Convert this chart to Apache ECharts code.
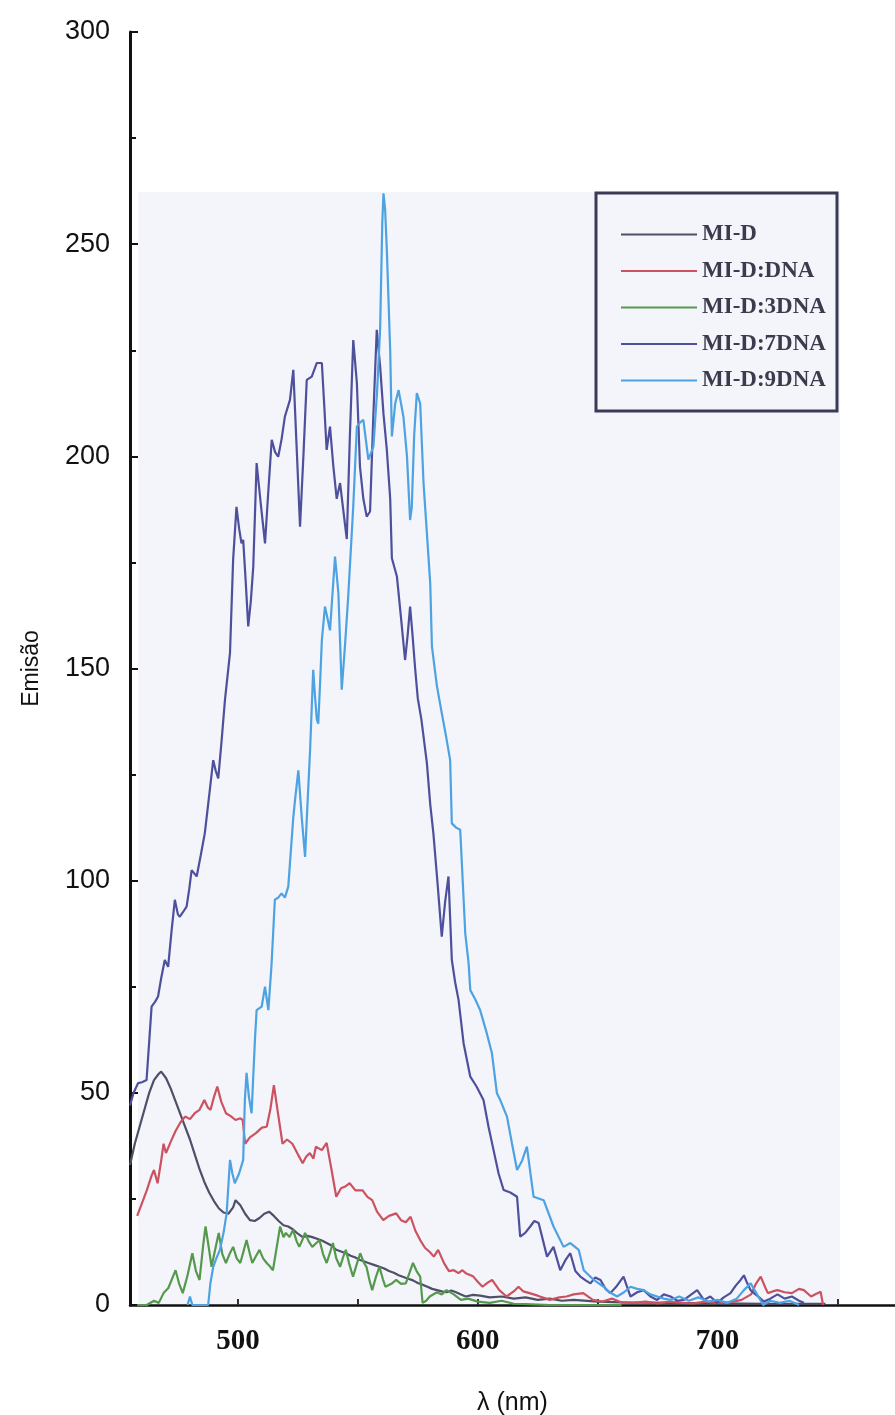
<!DOCTYPE html>
<html>
<head>
<meta charset="utf-8">
<script src="https://cdn.jsdelivr.net/npm/echarts@6/dist/echarts.min.js"></script>
<style>
html,body{margin:0;padding:0;background:#fff;}
#chart{width:895px;height:1415px;}
</style>
</head>
<body>
<div id="chart"></div>
<script>
// ---- data (wavelength nm, emission) ----
const seriesNames = ['MI-D', 'MI-D:DNA', 'MI-D:3DNA', 'MI-D:7DNA', 'MI-D:9DNA'];
const xLabelValues = [500, 600, 700];
const xTickValues = [500, 550, 600, 650, 700, 750];

const miD = [[455,33],[457,38],[459,42],[461,46],[463,50],[465,53],[467,54.5],[468,55],[470,53.5],[472,51],[474,48],[476,45],[478,42],[480,39],[482,35.5],[484,32],[486,29],[488,26.5],[490,24.5],[492,22.8],[494,21.8],[496,21.5],[498,23],[499,24.7],[501,23.5],[503,21.5],[505,20],[507,19.8],[509,20.5],[511,21.5],[513,22],[515,21],[517,19.8],[519,18.8],[521,18.5],[523,17.8],[525,16.8],[527,16],[529,16.3],[531,16],[533,15.6],[535,15.2],[537,14.6],[539,14],[541,13],[543,12.6],[545,12.2],[547,11.6],[549,11.2],[551,10.6],[553,10.2],[555,9.8],[557,9.4],[559,9],[561,8.6],[563,8],[565,7.6],[567,7],[569,6.6],[571,6.2],[573,5.8],[575,5.2],[577,4.8],[579,4.3],[581,3.8],[583,3.5],[585,3.2],[587,3],[589,3.4],[591,3],[593,2.5],[595,2],[598,2.4],[601,2.2],[605,1.8],[610,2],[615,1.5],[620,1.8],[625,1.2],[630,1.5],[635,1],[640,1.2],[650,0.8],[660,0.6],[680,0.5],[700,0.4],[720,0.3],[745,0.3]];

const miDDNA = [[458,21],[460,24],[462,27],[464,30.5],[465,31.8],[466.5,28.7],[468,34],[469,38],[470,35.8],[472,38.5],[474,41],[476,43],[478,44.4],[480,43.8],[482,45.2],[484,46],[486,48.3],[487.5,46.5],[488.6,46],[490,49],[491.4,51.5],[493,48],[495,45.2],[497,44.5],[499,43.6],[501,44],[502,43.6],[503,38],[505,39.5],[507.5,40.5],[510,41.8],[512,42],[513.5,46],[515,51.8],[516.5,46],[518.6,38],[520.5,39],[522.7,38],[525,35.5],[527,33.4],[528.5,35],[530,35.8],[531.5,34.5],[532.5,37.3],[535,36.5],[537,38.2],[539,32],[541,25.5],[543,27.5],[545,28],[546.6,28.7],[549,27],[552,27],[554,25.5],[556,24.7],[558,22],[560.6,20],[563,21],[566,21.6],[568,20],[570,19.5],[572,20.8],[574,17.5],[576,15.3],[578,13.5],[580,12.5],[581.7,11.4],[583.5,13],[586,9.8],[588,8],[590,8.2],[592,7.5],[593.6,8.2],[595,7.5],[598,6.8],[600,5.5],[602,4.3],[604,5.2],[606,5.9],[609,3.5],[612,2],[615,3.2],[617,4.3],[619,3.2],[621.6,2.8],[625,2.2],[630,1.2],[634,1.8],[637,2],[640,2.5],[644,2.8],[648,1.2],[652,0.8],[656,1.5],[660,0.6],[665,0.5],[670,0.8],[675,0.4],[680,0.8],[685,0.5],[690,0.4],[695,0.8],[700,0.5],[705,0.6],[710,1.2],[714,2.5],[716,5],[718,6.7],[720,4],[721,2.8],[723,3.2],[725,3.5],[728,3],[731,2.8],[734,3.8],[736,3.5],[739,2],[741,2.6],[743,3.1],[744,0]];

const miD3DNA = [[458,0],[462,0],[465,1],[467,0.5],[469,2.8],[471,4],[474,8.2],[475.5,5],[477,2.8],[479,7],[481,12.2],[482.5,8],[484,5.9],[485.5,14],[486.5,18.5],[488,13],[489,9],[490.5,13],[492,17],[493.5,12],[495,9.9],[496.5,12],[498,13.7],[499.5,11],[501,9.9],[502.5,13],[503.6,15.3],[505,12],[506,9.9],[507.5,11.5],[509,13],[510.5,11],[512,9.9],[513.5,9],[514.6,8.2],[516,13],[517.6,18.5],[519,16],[520,17],[521.5,16],[523,17.7],[524.5,15],[525.6,13.7],[527,15.5],[528,17],[529.5,15],[531,13.7],[532.5,14.5],[534,15.3],[535.5,12],[537,9.9],[538.5,12.5],[539.6,14.6],[541,11],[542.6,9],[544,11.5],[545,13],[546.5,9.5],[548,6.7],[549.5,9.5],[551,12.2],[552.5,10],[553.6,9],[555,5.5],[556,3.5],[557.5,6.5],[559,9],[560.5,6],[561.5,4.3],[564,5],[566,5.9],[568,5],[570,5.1],[571.5,7.5],[573,9.9],[574.5,8],[576,6.7],[577,0.5],[578.5,1],[580,2],[583,3],[585,2.5],[587,3.5],[590,2.5],[593,1.2],[596,1.5],[600,0.8],[605,0.5],[610,1],[615,0.3],[620,0.2],[630,0],[660,0]];

const miD7DNA = [[455,47],[456.5,50],[458.4,52.3],[460,52.5],[461.9,53],[463,62],[464,70.3],[465.5,71.5],[466.7,72.7],[468,77],[469.5,81.3],[470.9,79.7],[472.3,88],[473.7,95.5],[475,92],[475.8,91.5],[477,92.5],[478.6,93.9],[479.7,98],[480.7,102.5],[482.8,101],[484.5,106],[486.2,111.2],[488,120],[489.7,128.4],[490.7,126],[491.8,124.1],[493.2,133],[494.6,142.6],[496.7,153.7],[498,175.6],[499.4,188.1],[500.5,183],[501.5,179.5],[502.2,180.3],[503.3,170],[504.3,159.9],[505.4,166],[506.4,174],[507.8,198.4],[509.5,189],[511.3,179.5],[512.7,192],[514.1,203.9],[515.5,201],[516.8,199.9],[518.2,204],[519.6,209.4],[521.7,213.3],[523.1,220.4],[524.5,202],[525.9,183.4],[527.3,200],[528.7,218],[530.8,218.8],[532.9,222],[535,222],[536,212],[537,201.5],[538.4,207],[539.8,197.6],[541.2,190],[542.6,193.7],[544,187],[545.4,180.5],[546.7,205],[548.1,227.4],[549.6,217.3],[550.9,197.6],[552.3,190],[553.7,185.8],[555.1,187],[556.5,210],[557.9,229.8],[559.3,221.2],[560.7,210],[562.1,201.5],[563.5,190],[564.2,176],[566.3,171.7],[568,162],[569.7,152],[570.8,158],[571.8,164.6],[572.8,158],[573.9,150],[575,143],[576.5,138],[578.8,127.7],[580.2,118],[581.5,111.2],[583.3,99],[585,86.8],[586.4,95],[587.8,101],[589.2,81.3],[590.6,76],[592,71.9],[594.1,61.7],[596.9,53.8],[599.5,51.5],[602.4,48.3],[604.5,42],[606.6,36.5],[608.7,31],[610.8,27.1],[613.6,26.5],[616.4,25.5],[617.7,16.1],[619.8,17],[621.9,18.5],[623.6,19.8],[625.4,19.3],[628.9,11.4],[631.6,13.7],[634.4,8.2],[636.5,10.5],[638.6,12.2],[640.7,8],[642.8,6.7],[645,5.8],[647,5.1],[649,6.5],[651.2,5.9],[653.3,3.8],[655.3,2.8],[658,4.5],[660.8,6.7],[663.7,2],[666.5,3],[669.2,3.5],[672,2],[674.8,1.2],[677.6,2.5],[680.4,2],[683.2,1],[686,1.2],[688.8,2.4],[691.5,3.5],[694.3,1.2],[697,2],[699.8,0.5],[702.6,1.8],[705.4,2.8],[707.5,4.5],[709.6,5.9],[711,7],[712.4,5.1],[713.8,3.5],[715.2,2.8],[717,2],[719.3,0.8],[722,1.5],[725,2.5],[728,1.5],[731,2],[734,1],[736,0.5]];

const miD9DNA = [[479,0],[480,2],[481,0],[486,0],[487.6,0],[488.5,5],[489.7,9],[491,11],[492.5,13],[494,17],[495.3,21.6],[496.7,34.2],[497.7,31],[498.7,28.7],[500.5,31],[502.2,34.2],[502.9,48.3],[503.6,54.7],[504.6,49],[505.7,45.2],[507.1,62.5],[507.8,69.5],[509.9,70.3],[511.3,75],[512.7,69.5],[514,80],[515.4,95.5],[516.8,96],[518.2,97],[519.6,96],[521,98.6],[523.1,115],[524,120],[525.2,126],[526.6,115],[528,105.6],[529,118],[530.1,130.8],[531.4,149.7],[532.2,143],[532.9,138],[533.5,137],[534.3,147],[535,156.7],[536.3,164.6],[538.4,159],[540.5,176.4],[541.9,167.7],[543.3,145],[544.6,155],[546,167],[548.1,188.2],[549.6,207],[551,208],[552.3,208.6],[554.4,199.2],[556.5,202.3],[558,215],[559.3,230],[560.2,255],[560.7,262],[561.4,258],[562.1,248.6],[563.5,225],[564.2,204.7],[565.6,212.5],[567,215.6],[569,209.4],[570.5,200],[571.8,185],[572.5,188],[573.5,205],[574.6,214.9],[576,212.5],[577.4,193.7],[578.8,181.9],[580.2,170],[580.9,155.2],[583,145.8],[585,139.5],[586.8,134],[588.5,128.4],[589.2,113.5],[591,112.5],[592.7,112],[594.8,87.6],[596.2,80.5],[596.9,74.2],[599,72],[601,69.5],[603.8,64],[605.9,59.4],[608,49.9],[609.4,48.3],[612.2,44.4],[614.3,38],[616.4,31.8],[618.5,34],[620.5,37.3],[623.3,25.5],[627.5,24.7],[631.6,18.5],[635.8,13.7],[638.6,14.6],[642.1,13],[644.2,8.2],[648.4,5.9],[652.5,4.3],[655,3],[658.1,2],[661,3],[663.7,4.3],[666.5,3.8],[669.2,3.5],[672,2.5],[674.8,2],[677.6,1.5],[680.4,1.2],[684,2],[688,1],[692,1.8],[696,0.8],[700,1.2],[704,0.5],[708,1.5],[711,3.5],[713.8,5.1],[716,3],[719,0],[722,1],[726,0.5],[730,1],[734,0]];

const seriesData = [miD, miDDNA, miD3DNA, miD7DNA, miD9DNA];
const colors = ['#4f4f68', '#cc5260', '#55994c', '#4e509c', '#4da2e2'];

const chart = echarts.init(document.getElementById('chart'), null, {renderer: 'canvas'});

const option = {
  animation: false,
  backgroundColor: '#ffffff',
  grid: {left: 130, right: 0, top: 32, bottom: 110, containLabel: false, outerBoundsMode: 'none'},
  xAxis: {
    type: 'value', min: 455, max: 774,
    name: 'λ (nm)', nameLocation: 'middle', nameGap: 86,
    nameTextStyle: {fontFamily: 'Liberation Sans', fontSize: 25, color: '#111'},
    axisLine: {show: true, lineStyle: {color: '#111', width: 2.5}},
    axisTick: {show: true, inside: true, length: 6, customValues: xTickValues, lineStyle: {color: '#333', width: 2}},
    axisLabel: {customValues: xLabelValues, margin: 22, fontFamily: 'Liberation Serif', fontWeight: 'bold', fontSize: 29, color: '#111'},
    splitLine: {show: false}
  },
  yAxis: {
    type: 'value', min: 0, max: 300, interval: 50,
    name: 'Emisão', nameLocation: 'middle', nameGap: 87, nameRotate: 90,
    nameTextStyle: {fontFamily: 'Liberation Sans', fontSize: 23, color: '#111'},
    axisLine: {show: true, lineStyle: {color: '#111', width: 3}},
    axisTick: {show: true, inside: true, length: 8, lineStyle: {color: '#111', width: 2}},
    minorTick: {show: true, splitNumber: 2, length: 6, lineStyle: {color: '#111', width: 2}},
    axisLabel: {margin: 20, fontFamily: 'Liberation Sans', fontSize: 27, color: '#111'},
    splitLine: {show: false}
  },
  legend: {
    show: true,
    data: seriesNames,
    orient: 'vertical',
    icon: 'rect',
    left: 616, top: 218,
    itemWidth: 76, itemHeight: 2, itemGap: 13.5,
    textStyle: {fontFamily: 'Liberation Serif', fontWeight: 'bold', fontSize: 23, color: '#3b3b4e', lineHeight: 22}
  },
  graphic: [
    {type: 'rect', z: -1, silent: true, shape: {x: 138, y: 192, width: 702, height: 1112}, style: {fill: '#f4f4fb'}},
    {type: 'rect', z: 5, silent: true, shape: {x: 596, y: 193, width: 241, height: 218}, style: {fill: 'none', stroke: '#3a3a55', lineWidth: 3}}
  ],
  series: seriesNames.map((n, i) => ({
    name: n, type: 'line', data: seriesData[i], symbol: 'none', smooth: false,
    lineStyle: {color: colors[i], width: 2.2}, itemStyle: {color: colors[i]},
    clip: true, z: 2 + i
  }))
};
chart.setOption(option);
</script>
</body>
</html>
